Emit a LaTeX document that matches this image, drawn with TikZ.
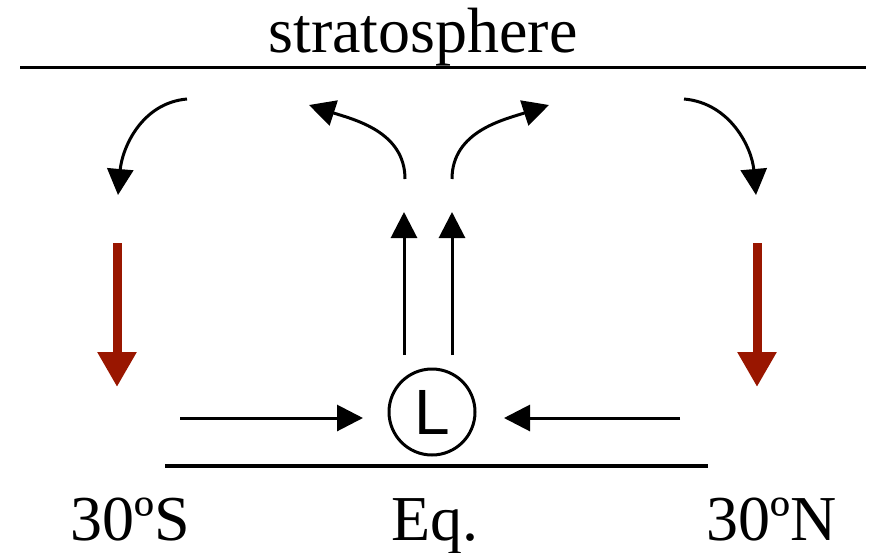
\documentclass[tikz,border=0pt]{standalone}
\usepackage{fontspec}
\setmainfont{Liberation Serif}
\newfontfamily\lowfont{Liberation Sans}
\usetikzlibrary{arrows.meta,positioning}
\definecolor{sinkred}{RGB}{153,22,0}
\tikzset{
  lbl/.style    ={font=\fontsize{32}{38}\selectfont,inner sep=0pt,anchor=base},
  lowc/.style   ={circle,draw=black,line width=1.5pt,minimum size=43pt,
                  inner sep=0pt,font=\lowfont\fontsize{32}{38}\selectfont},
  flow/.style   ={-{Triangle[length=13pt,width=13pt]},line width=1.5pt},
  sink/.style   ={-{Triangle[length=17.5pt,width=18.5pt]},draw=sinkred,
                  line width=4.5pt},
  ground/.style ={line width=2pt},
}
\begin{document}
\begin{tikzpicture}[x=0.5pt,y=-0.5pt]
\useasboundingbox (0,0) rectangle (888,552);

% Lines and labels
\node[lbl] (strat) at (423,52) {stratosphere};
\coordinate (tropL) at (20,67);
\coordinate (tropR) at (866,67);
\draw[line width=1.5pt] (tropL) -- (tropR);
\coordinate (surfL) at (165,466);
\coordinate (surfR) at (708,466);
\draw[ground] (surfL) -- (surfR);
\node[lbl] (south) at (130,540) {30ºS};
\node[lbl] (eq) at (435,540) {Eq.};
\node[lbl] (north) at (772,540) {30ºN};

% Low pressure centre
\node[lowc] (low) at (432,412) {L};

% Surface convergence
\coordinate (inSs) at (180,418);
\coordinate (inSe) at (363,418);
\coordinate (inNs) at (680,418);
\coordinate (inNe) at (504,418);
\draw[flow] (inSs) -- (inSe);
\draw[flow] (inNs) -- (inNe);

% Rising air
\coordinate (upAb) at (404,355);
\coordinate (upAt) at (404,212);
\coordinate (upBb) at (452,355);
\coordinate (upBt) at (452,212);
\draw[flow] (upAb) -- (upAt);
\draw[flow] (upBb) -- (upBt);

% Upper level outflow
\coordinate (outAs) at (405,179);
\coordinate (outAe) at (309,105);
\coordinate (outBs) at (452,179);
\coordinate (outBe) at (549,105);
\draw[flow] (outAs) to[out=90,in=-18] (outAe);
\draw[flow] (outBs) to[out=90,in=198] (outBe);

% Descent towards 30 degrees
\coordinate (dnSs) at (187,99);
\coordinate (dnSe) at (118,195);
\coordinate (dnNs) at (684,99);
\coordinate (dnNe) at (756,195);
\draw[flow] (dnSs) to[out=185,in=85] (dnSe);
\draw[flow] (dnNs) to[out=-5,in=95] (dnNe);

% Subsiding air
\coordinate (sinkSt) at (117,243);
\coordinate (sinkSb) at (117,387);
\coordinate (sinkNt) at (757,243);
\coordinate (sinkNb) at (757,387);
\draw[sink] (sinkSt) -- (sinkSb);
\draw[sink] (sinkNt) -- (sinkNb);

\end{tikzpicture}
\end{document}
